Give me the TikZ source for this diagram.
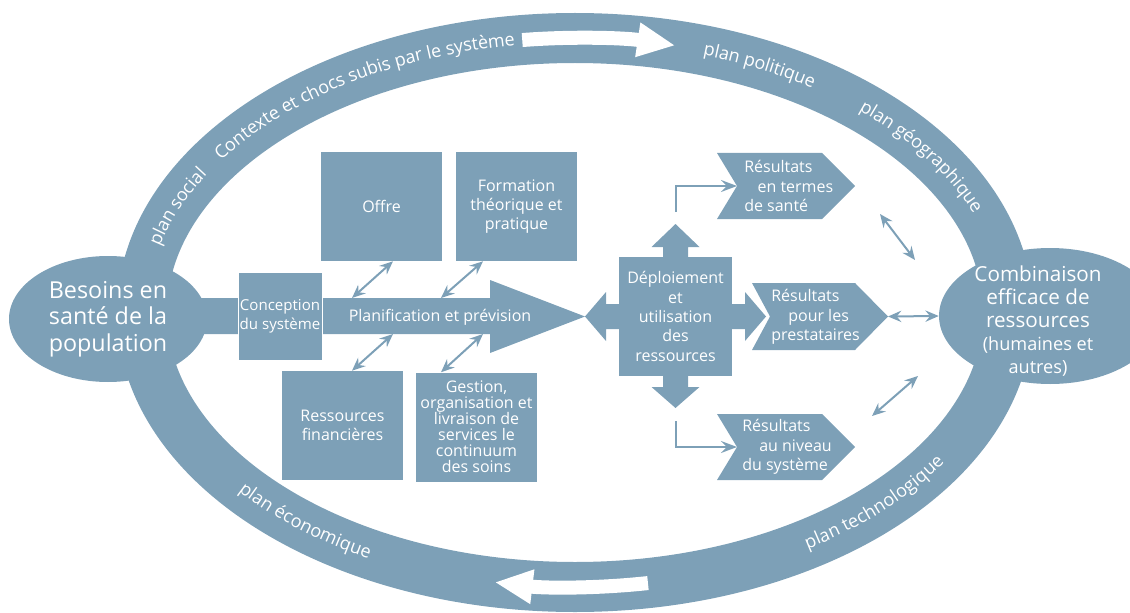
\documentclass[tikz,border=0pt]{standalone}
\usepackage{fontspec}
\setmainfont{Open Sans}
\usetikzlibrary{arrows.meta,decorations.text,shapes.geometric,positioning}

\definecolor{steel}{RGB}{125,160,183}
\newcommand\boxsize{\fontsize{12}{14.5}\selectfont}
\newcommand\ringsize{\fontsize{13.5}{16}\selectfont}
\newcommand\blobsize{\fontsize{17.5}{20}\selectfont}
\newcommand\mixsize{\fontsize{15.5}{17.3}\selectfont}
\newcommand\mixsmall{\fontsize{13.6}{17.3}\selectfont}

\tikzset{
  block/.style={fill=steel, text=white, inner sep=0pt, align=center, font=\boxsize},
  sqbox/.style={block, minimum width=90.75pt, minimum height=81.75pt},
  blob/.style={ellipse, fill=steel, text=white, inner sep=0pt, align=center},
  flowtext/.style={text=white, inner sep=0pt, align=center, font=\boxsize},
  restext/.style={text=white, inner sep=0pt, align=left, anchor=west, font=\boxsize},
  link/.style={draw=steel, line width=1.5pt, {Stealth[length=10pt,width=8.5pt,inset=3.5pt]}-{Stealth[length=10pt,width=8.5pt,inset=3.5pt]}},
  elbow/.style={draw=steel, line width=1.5pt, -{Stealth[length=12pt,width=9pt,inset=4.5pt]}},
  ringtext/.style={decorate, decoration={text along path, text align=center, raise=-3.5pt, text color=white, text={|\ringsize|#1}}},
  ringarrow/.style={draw=white, line width=10.5pt, -{Triangle[length=28.5pt,width=24pt]}},
}

\begin{document}
\begin{tikzpicture}[x=0.75pt,y=0.75pt,yscale=-1,xscale=1]
\useasboundingbox (0,0) rectangle (1130,613);
\coordinate (ctr) at (575,312.5);

% context ring
\draw[steel, line width=37.5pt] (ctr) ellipse [x radius=433, y radius=274.5];
\draw[ringarrow] ([shift={(263:433 and 274.5)}]ctr) arc [start angle=263, end angle=283.4, x radius=433, y radius=274.5];
\draw[ringarrow] ([shift={(80.3:433 and 274.5)}]ctr) arc [start angle=80.3, end angle=100.7, x radius=433, y radius=274.5];

% planning arrow
\fill[steel] (150,298) -- (490,298) -- (490,280) -- (585,316.5) -- (490,353) -- (490,334) -- (150,334) -- cycle;

% end blobs
\node[blob, font=\blobsize, minimum width=148.5pt, minimum height=94.5pt] (needs) at (108,319) {Besoins en\\santé de la\\population};
\node[blob, minimum width=166.5pt, minimum height=102pt] (mix) at (1050,316) {};
\node[flowtext, font=\mixsize] (mixtext) at (1038,321) {Combinaison\\efficace de\\ressources\\{\mixsmall(humaines et}\\{\mixsmall autres)}};

\path[ringtext={plan social}] ([shift={(186:433 and 274.5)}]ctr) arc [start angle=186, end angle=218, x radius=433, y radius=274.5];
\path[ringtext={Contexte et chocs subis par le système}] ([shift={(205:433 and 274.5)}]ctr) arc [start angle=205, end angle=269, x radius=433, y radius=274.5];
\path[ringtext={plan politique}] ([shift={(278:433 and 274.5)}]ctr) arc [start angle=278, end angle=314, x radius=433, y radius=274.5];
\path[ringtext={plan géographique}] ([shift={(304:433 and 274.5)}]ctr) arc [start angle=304, end angle=348, x radius=433, y radius=274.5];
\path[ringtext={plan économique}] ([shift={(148:433 and 274.5)}]ctr) arc [start angle=148, end angle=112, x radius=433, y radius=274.5];
\path[ringtext={plan technologique}] ([shift={(62:433 and 274.5)}]ctr) arc [start angle=62, end angle=27, x radius=433, y radius=274.5];

\node[flowtext] (planning) at (440,317) {Planification et prévision};
\node[block, font=\fontsize{11.3}{14}\selectfont, minimum width=63pt, minimum height=66pt, draw=white, line width=0.6pt] (design) at (280,316) {Conception\\du système};

\node[sqbox] (offer) at (381.5,206.5) {Offre};
\node[sqbox] (training) at (516.5,206.5) {Formation\\théorique et\\pratique};
\node[sqbox] (finance) at (342.5,425.5) {Ressources\\financières};
\node[sqbox, font=\fontsize{12}{12}\selectfont] (delivery) at (476.5,427) {Gestion,\\organisation et\\livraison de\\services le\\continuum\\des soins};

\coordinate (s1) at (352,298);
\coordinate (s2) at (441,298);
\coordinate (s3) at (393,334);
\coordinate (s4) at (483,334);
\draw[link] (s1) -- ([xshift=8.6pt]offer.south);
\draw[link] (s2) -- ([xshift=-25.1pt]training.south);
\draw[link] ([xshift=7.1pt]finance.north) -- (s3);
\draw[link] ([xshift=-26.6pt]delivery.north) -- (s4);

% deployment cross
\node[block, minimum width=84.75pt, minimum height=89.25pt] (deploy) at (675.5,316.5) {Déploiement\\et\\utilisation\\des\\ressources};
\fill[steel] (663,257) -- (663,247) -- (651.5,247) -- (675.5,224) -- (699.5,247) -- (688,247) -- (688,257) -- cycle;
\fill[steel] (663,376) -- (663,387) -- (651.5,387) -- (675.5,408) -- (699.5,387) -- (688,387) -- (688,376) -- cycle;
\fill[steel] (619,304) -- (606,304) -- (606,292) -- (585,316.5) -- (606,341) -- (606,329) -- (619,329) -- cycle;
\fill[steel] (732,304) -- (745,304) -- (745,292) -- (766,316.5) -- (745,341) -- (745,329) -- (732,329) -- cycle;

% results
\fill[steel] (717,153) -- (822,153) -- (855,186) -- (822,219) -- (717,219) -- (737,186) -- cycle;
\fill[steel] (752,283) -- (855,283) -- (888,316.5) -- (855,350) -- (752,350) -- (770,316.5) -- cycle;
\fill[steel] (717,414) -- (822,414) -- (855,447) -- (822,480) -- (717,480) -- (737,447) -- cycle;
\node[restext] (health) at (744,186) {Résultats\\\hspace{10pt}en termes\\de santé};
\node[restext] (providers) at (771,317) {Résultats\\\hspace{12.75pt}pour les\\prestataires};
\node[restext] (system) at (742,447) {Résultats\\\hspace{12.75pt}au niveau\\du système};

\coordinate (health in) at (737,186);
\coordinate (system in) at (737,447);
\coordinate (up end) at (675.5,212);
\coordinate (down end) at (675.5,421);
\draw[elbow] (up end) |- (health in);
\draw[elbow] (down end) |- (system in);

\coordinate (providers tip) at (888,316.5);
\coordinate (a1) at (880,214);
\coordinate (a2) at (915,260);
\coordinate (b1) at (872,416);
\coordinate (b2) at (918,376);
\draw[link] (a1) -- (a2);
\draw[link] (providers tip) -- (mix.west);
\draw[link] (b1) -- (b2);

\end{tikzpicture}
\end{document}
